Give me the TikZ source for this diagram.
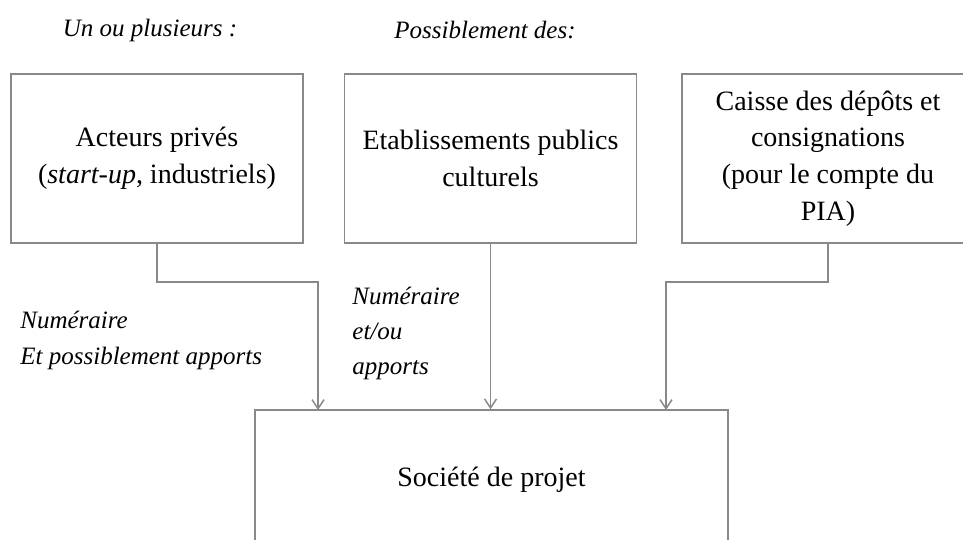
\documentclass[tikz,border=0pt]{standalone}
\usepackage{fontspec}
\setmainfont{Liberation Serif}
\usetikzlibrary{arrows.meta}
\definecolor{lineGray}{RGB}{137,137,137}
\tikzset{
	box/.style={draw=lineGray, line width=0.75pt, align=center, minimum width=146pt, minimum height=84.5pt, font=\fontsize{14}{18.3}\selectfont},
	lbl/.style={inner sep=0pt, align=left, font=\fontsize{12.5}{18}\selectfont\itshape},
	flow/.style={draw=lineGray, line width=0.75pt, -{Straight Barb[length=4.5pt, width=6pt]}}
}
\begin{document}
\begin{tikzpicture}[x=0.5pt, y=-0.5pt]
		\useasboundingbox (0,0) rectangle (963,540);
		\clip (0,0) rectangle (963,540);
				\node[box] (A) at (157,158.5) {Acteurs privés\\(\textit{start-up}, industriels)};
				\node[box] (E) at (490.5,158.5) {Etablissements publics\\culturels};
				\node[box] (C) at (828,158.5) {Caisse des dépôts et\\consignations\\(pour le compte du\\PIA)};
				\node[box, minimum width=236.5pt, minimum height=70pt] (S) at (491.5,480) {Société de projet};
				\path
				coordinate (inA) at (318,410)
				coordinate (inC) at (666,410)
				;
				\draw[flow] (A.south) -- ++(0,38) -| (inA);
				\draw[flow] (E.south) -- (E.south |- S.north);
				\draw[flow] (C.south) -- ++(0,38) -| (inC);
				\node[lbl] (un) at (150,30) {Un ou plusieurs :};
				\node[lbl] (poss) at (485,30) {Possiblement des:};
				\node[lbl, anchor=west] (numA) at (20,340) {Numéraire\\Et possiblement apports};
				\node[lbl, anchor=west, font=\fontsize{12.5}{17.5}\selectfont\itshape] (numE) at (352,333) {Numéraire\\et/ou\\apports};
		\end{tikzpicture}
\end{document}
